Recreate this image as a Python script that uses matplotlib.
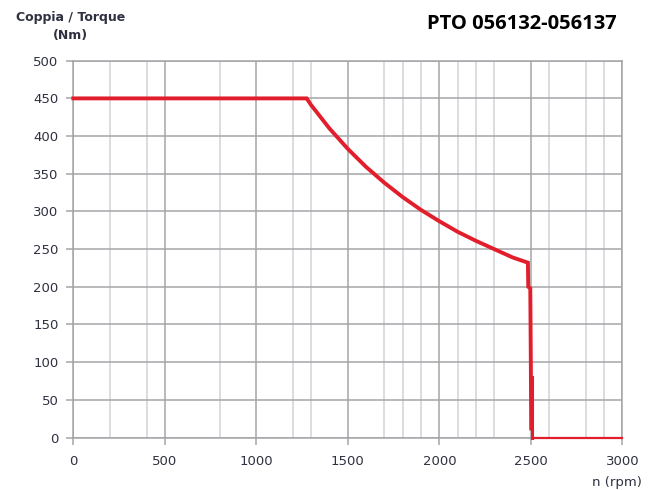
import matplotlib
matplotlib.use('Agg')
import matplotlib.pyplot as plt

# torque curve
rpm = [0, 1275, 1300, 1400, 1500, 1600, 1700, 1800, 1900, 2000, 2100, 2200,
       2300, 2400, 2484, 2486, 2497, 2500, 2502]
torque = [450, 450, 441, 410, 383, 359, 338, 319, 302, 287, 273, 261,
          250, 239, 232, 200, 198, 100, 12]
rpm_zero = [2508, 2508, 3000]
torque_zero = [80, 0, 0]

x_major = [0, 500, 1000, 1500, 2000, 2500, 3000]
x_minor = [200, 400, 800, 1200, 1300, 1700, 1800, 1900, 2100, 2200, 2300,
           2600, 2800, 2900]
y_ticks = list(range(0, 501, 50))

grid_dark = '#a4a5a8'
grid_light = '#d2d3d7'
red = '#e31e2c'
txt = '#2f3040'

fig = plt.figure(figsize=(6.58, 4.9), dpi=100)
ax = fig.add_axes([0.1114, 0.1071, 0.8344, 0.769])

ax.plot(rpm, torque, color=red, lw=2.8, zorder=4, clip_on=False,
        solid_joinstyle='miter')
ax.plot(rpm_zero[:2], torque_zero[:2], color=red, lw=2.2, zorder=4, clip_on=False)
ax.plot(rpm_zero[1:], torque_zero[1:], color=red, lw=1.6, zorder=4, clip_on=False)

ax.set_xlim(0, 3000)
ax.set_ylim(0, 500)
ax.set_xticks(x_major)
ax.set_xticks(x_minor, minor=True)
ax.set_yticks(y_ticks)

ax.grid(True, which='major', axis='y', color=grid_dark, lw=1.1)
ax.grid(True, which='major', axis='x', color=grid_dark, lw=1.1)
ax.grid(True, which='minor', axis='x', color=grid_light, lw=1.1)
ax.set_axisbelow(True)

for s in ['left', 'bottom', 'top', 'right']:
    ax.spines[s].set_color(grid_dark)
    ax.spines[s].set_linewidth(1.1)

ax.tick_params(axis='x', which='major', length=4.7, width=1.1, color=grid_dark,
               pad=8, labelsize=9.5, labelcolor=txt)
ax.tick_params(axis='x', which='minor', length=0)
ax.tick_params(axis='y', length=4.7, width=1.1, color=grid_dark,
               pad=6, labelsize=9.5, labelcolor=txt)

fig.text(71 / 658, 1 - 17 / 490, 'Coppia / Torque', ha='center', va='center',
         fontsize=9, color=txt, fontweight='semibold')
fig.text(70 / 658, 1 - 35 / 490, '(Nm)', ha='center', va='center',
         fontsize=9, color=txt, fontweight='semibold')
fig.text(642 / 658, 1 - 482 / 490, 'n (rpm)', ha='right', va='center',
         fontsize=9.5, color=txt)
fig.text(617 / 658, 1 - 24 / 490, 'PTO 056132-056137', ha='right', va='center',
         fontsize=14.5, fontweight='bold', family='Open Sans', color='black')

fig.savefig('out.png', dpi=100)
